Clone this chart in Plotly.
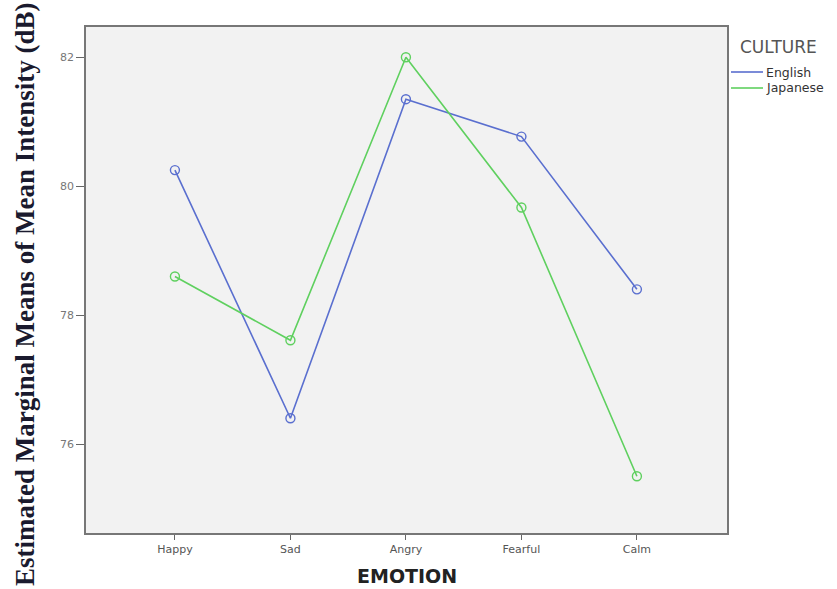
import plotly.graph_objects as go

emotions = ["Happy", "Sad", "Angry", "Fearful", "Calm"]
english = [80.25, 76.40, 81.35, 80.77, 78.40]
japanese = [78.60, 77.61, 82.00, 79.67, 75.50]
y_ticks = [76, 78, 80, 82]
legend_title = "CULTURE"
series_names = ["English", "Japanese"]

blue = "#5a6fcf"
green = "#5fd05f"
colors = [blue, green]

W, H = 837, 589
L, R, T, B = 86, 110, 27, 56
pw, ph = W - L - R, H - T - B

def px(x):
    return (x - L) / pw

def py(y):
    return (H - B - y) / ph

fig = go.Figure()
for name, vals, c in zip(series_names, [english, japanese], colors):
    fig.add_trace(go.Scatter(x=emotions, y=vals, name=name, mode="lines+markers", showlegend=False,
                             line=dict(color=c, width=1.6),
                             marker=dict(symbol="circle-open", size=9, color=c, line=dict(width=1.4))))

# legend drawn manually (line samples only, tight spacing as in reference)
fig.add_annotation(text=legend_title, xref="paper", yref="paper", x=px(738), y=py(47),
                   xanchor="left", yanchor="middle", showarrow=False,
                   font=dict(family="DejaVu Sans", size=17, color="#555555"))
for i, (name, c) in enumerate(zip(series_names, colors)):
    yy = 72 + 16 * i
    fig.add_shape(type="line", xref="paper", yref="paper", x0=px(731), x1=px(763), y0=py(yy), y1=py(yy),
                  line=dict(color=c, width=1.6))
    fig.add_annotation(text=name, xref="paper", yref="paper", x=px(764), y=py(yy),
                       xanchor="left", yanchor="middle", showarrow=False,
                       font=dict(family="DejaVu Sans", size=12.5, color="#333333"))

# axis titles as annotations so they sit where the reference puts them
fig.add_annotation(text="<b>Estimated Marginal Means of Mean Intensity (dB)</b>",
                   xref="paper", yref="paper", x=px(25), y=py(295), textangle=-90,
                   xanchor="center", yanchor="middle", showarrow=False,
                   font=dict(family="Liberation Serif, Times New Roman", size=27, color="#1a1a2e"))
fig.add_annotation(text="<b>EMOTION</b>", xref="paper", yref="paper", x=px(407), y=py(576),
                   xanchor="center", yanchor="middle", showarrow=False,
                   font=dict(family="DejaVu Sans", size=19, color="#222222"))

fig.update_layout(
    width=W, height=H,
    margin=dict(l=L, r=R, t=T, b=B, autoexpand=False),
    paper_bgcolor="white", plot_bgcolor="#f2f2f2",
    font=dict(family="DejaVu Sans", color="#555555", size=11),
    showlegend=False,
    xaxis=dict(type="category", range=[-0.77, 4.78], showgrid=False, zeroline=False, automargin=False,
               ticks="outside", ticklen=5, tickcolor="#666666",
               tickfont=dict(family="DejaVu Sans", size=11, color="#555555"),
               showline=True, linecolor="#777777", linewidth=1.5, mirror=True),
    yaxis=dict(range=[74.62, 82.47], tickvals=y_ticks, showgrid=False, zeroline=False, automargin=False,
               ticks="outside", ticklen=8, tickcolor="#666666",
               tickfont=dict(family="DejaVu Sans", size=11, color="#777777"),
               showline=True, linecolor="#777777", linewidth=1.5, mirror=True),
)

fig.write_html("out.html")
